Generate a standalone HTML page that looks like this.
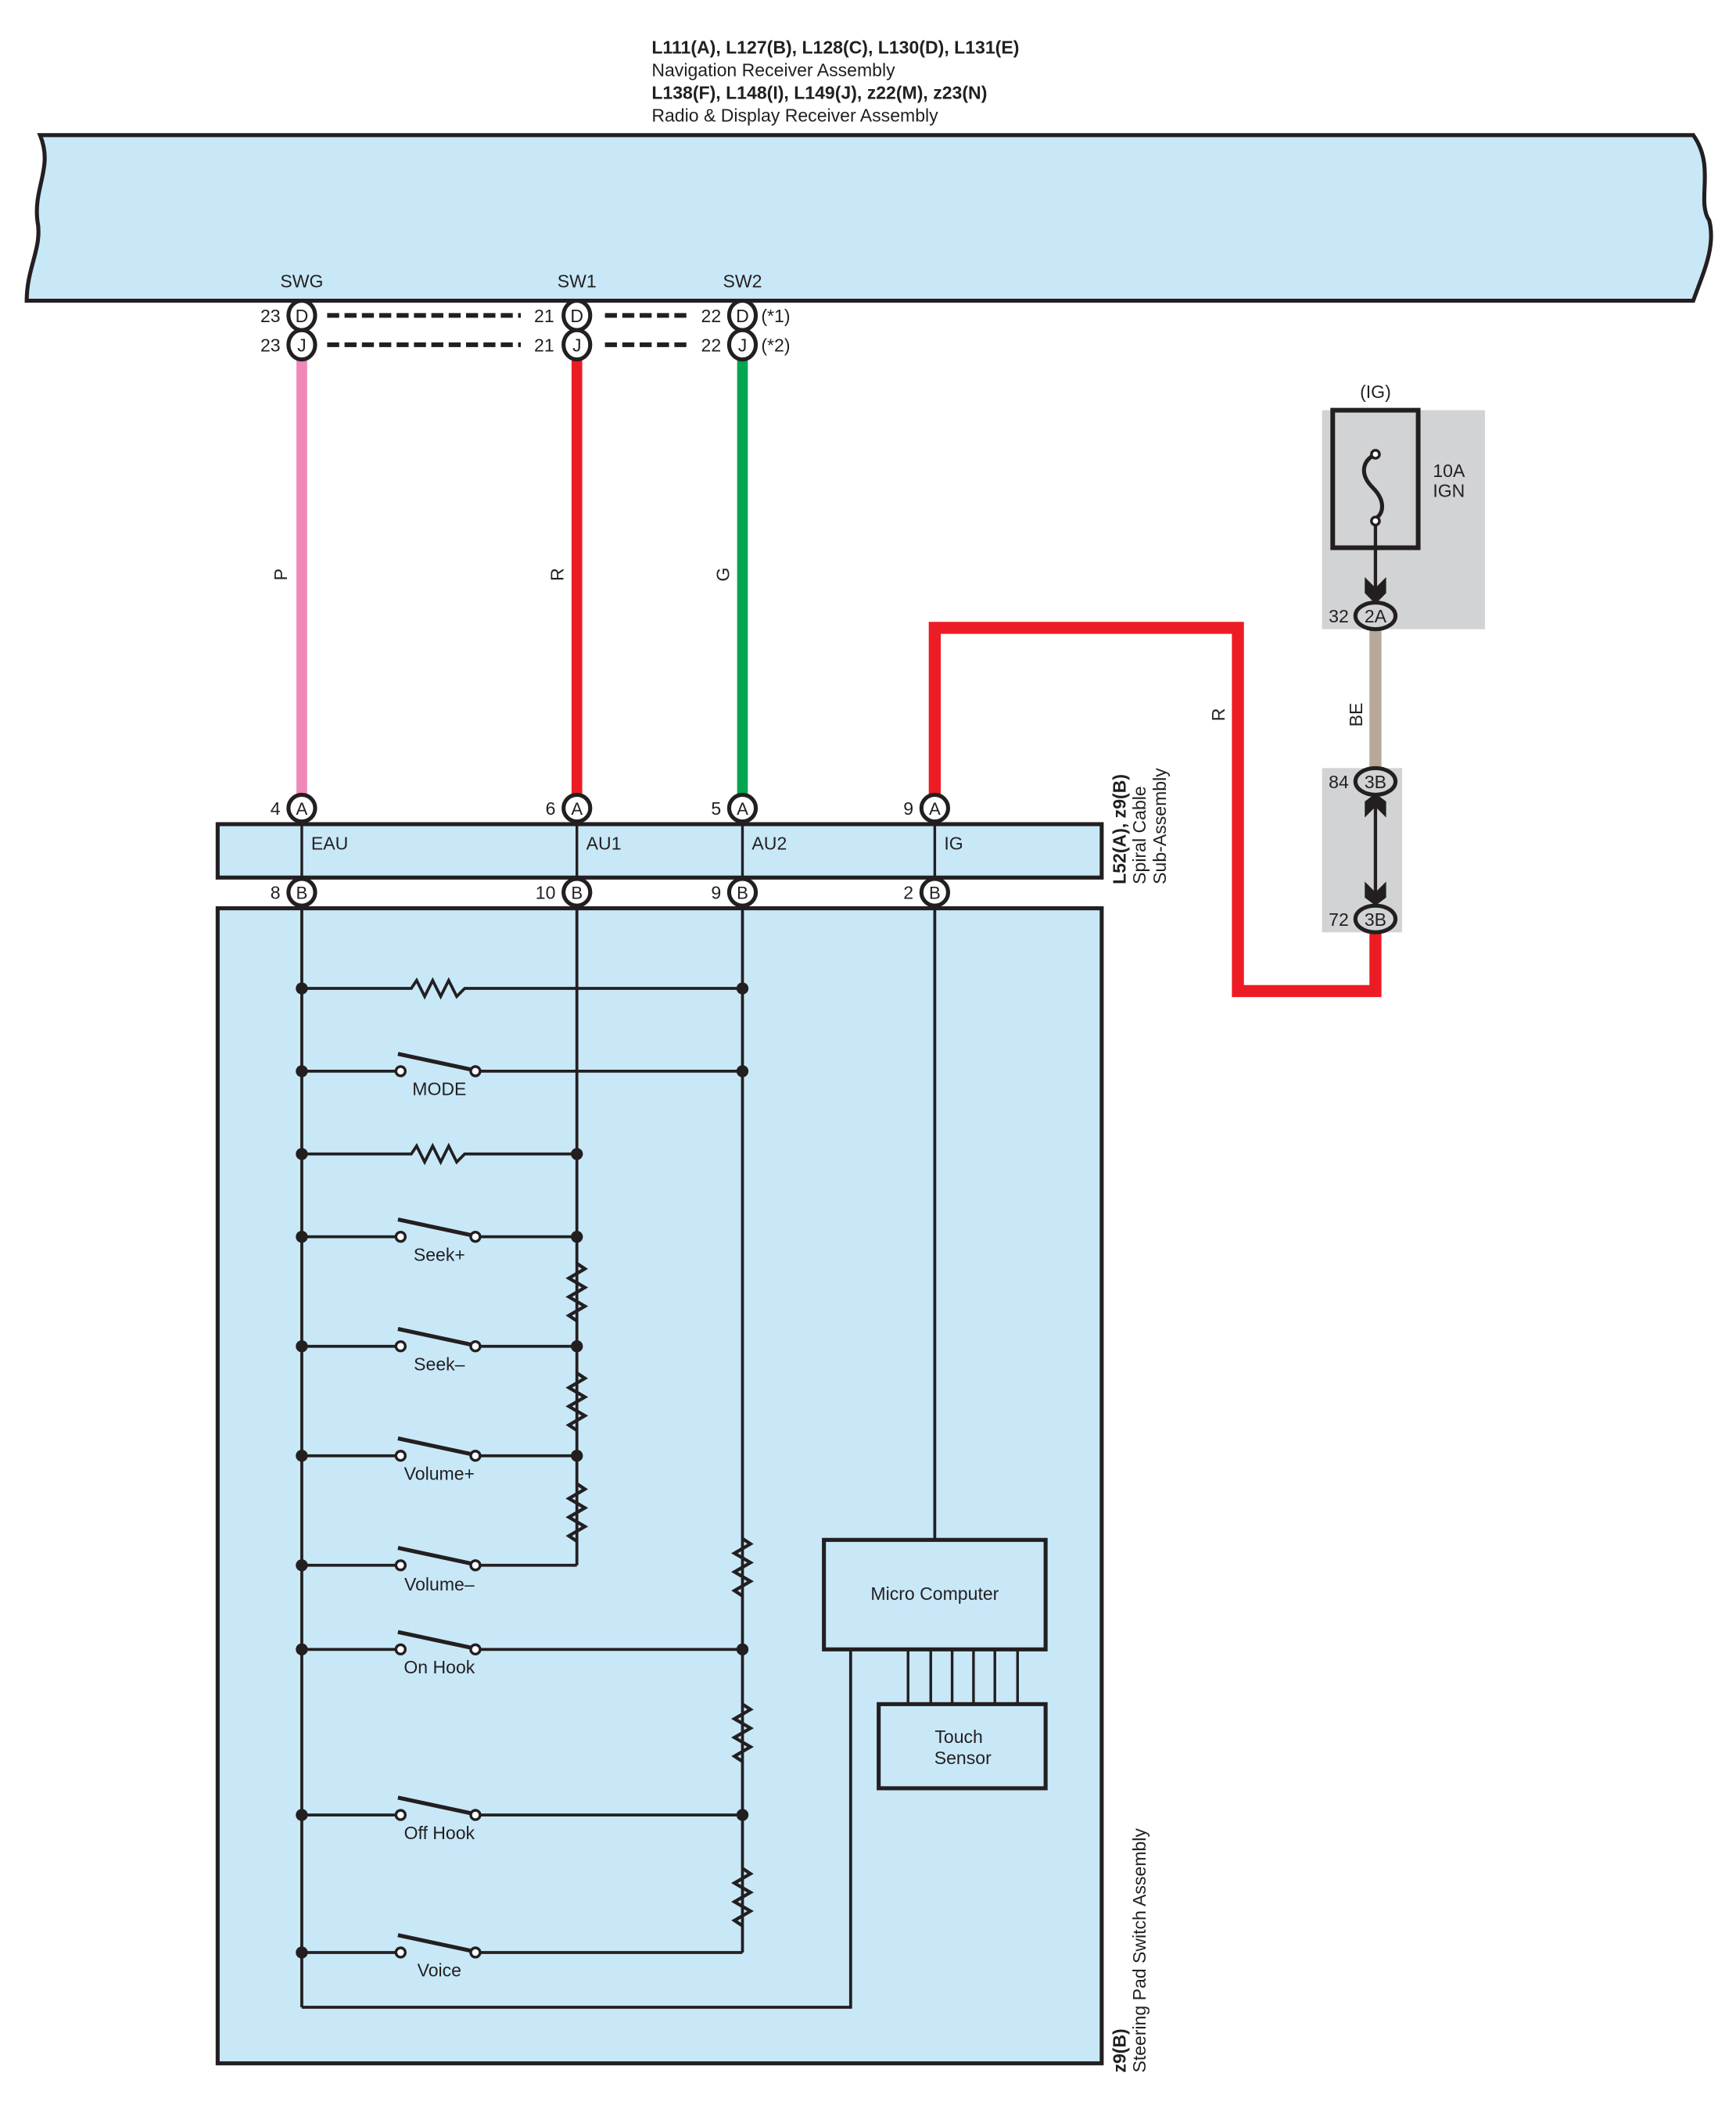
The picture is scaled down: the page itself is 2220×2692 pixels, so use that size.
<!DOCTYPE html>
<html><head><meta charset="utf-8"><style>
html,body{margin:0;padding:0;background:#fff}
svg{display:block}
text{font-family:"Liberation Sans",sans-serif;fill:#231f20}
</style></head><body>
<svg width="2220" height="2692" viewBox="0 0 1300 1576" xmlns="http://www.w3.org/2000/svg">
<!-- header -->
<g font-size="13.5">
<text x="488" y="40" font-weight="bold">L111(A), L127(B), L128(C), L130(D), L131(E)</text>
<text x="488" y="57">Navigation Receiver Assembly</text>
<text x="488" y="74" font-weight="bold">L138(F), L148(I), L149(J), z22(M), z23(N)</text>
<text x="488" y="91">Radio &amp; Display Receiver Assembly</text>
</g>
<path d="M30,101 H1268 C1285,125 1270,150 1280,165 C1285,185 1275,205 1268,225 H20 C20,200 32,185 28,165 C25,140 40,125 30,101 Z" fill="#c8e8f8" stroke="#231f20" stroke-width="3"/>
<g font-size="13.5" text-anchor="middle">
<text x="226" y="215">SWG</text><text x="432" y="215">SW1</text><text x="556" y="215">SW2</text>
</g>
<!-- wires top -->
<line x1="226" y1="265" x2="226" y2="597" stroke="#f088b8" stroke-width="8"/>
<line x1="432" y1="265" x2="432" y2="597" stroke="#ed1c24" stroke-width="8"/>
<line x1="556" y1="265" x2="556" y2="597" stroke="#00a650" stroke-width="8"/>
<g stroke="#231f20" stroke-width="3.5" stroke-dasharray="9,4">
<line x1="245" y1="236" x2="390" y2="236"/><line x1="453" y1="236" x2="515" y2="236"/>
<line x1="245" y1="258" x2="390" y2="258"/><line x1="453" y1="258" x2="515" y2="258"/>
</g>
<g fill="#fff" stroke="#231f20" stroke-width="3">
<ellipse cx="226" cy="236" rx="10" ry="11"/><ellipse cx="226" cy="258" rx="10" ry="11"/>
<ellipse cx="432" cy="236" rx="10" ry="11"/><ellipse cx="432" cy="258" rx="10" ry="11"/>
<ellipse cx="556" cy="236" rx="10" ry="11"/><ellipse cx="556" cy="258" rx="10" ry="11"/>
</g>
<g font-size="13.5" text-anchor="middle">
<text x="226" y="241">D</text><text x="226" y="263">J</text>
<text x="432" y="241">D</text><text x="432" y="263">J</text>
<text x="556" y="241">D</text><text x="556" y="263">J</text>
</g>
<g font-size="13.5" text-anchor="end">
<text x="210" y="241">23</text><text x="210" y="263">23</text>
<text x="415" y="241">21</text><text x="415" y="263">21</text>
<text x="540" y="241">22</text><text x="540" y="263">22</text>
</g>
<text x="570" y="241" font-size="13.5">(*1)</text><text x="570" y="263" font-size="13.5">(*2)</text>
<g font-size="13.5" text-anchor="middle">
<text transform="translate(215,430) rotate(-90)">P</text>
<text transform="translate(422,430) rotate(-90)">R</text>
<text transform="translate(546,430) rotate(-90)">G</text>
<text transform="translate(917,535) rotate(-90)">R</text>
<text transform="translate(1020,535) rotate(-90)">BE</text>
</g>
<!-- red IG wire -->
<path d="M700,598 V470 H927 V742 H1030 V698" fill="none" stroke="#ed1c24" stroke-width="9"/>
<!-- fuse area -->
<rect x="990" y="307" width="122" height="164" fill="#d1d3d4"/>
<rect x="998" y="307" width="64" height="103" fill="none" stroke="#231f20" stroke-width="3.5"/>
<text x="1030" y="298" font-size="13.5" text-anchor="middle">(IG)</text>
<text x="1073" y="357" font-size="13.5">10A</text><text x="1073" y="372" font-size="13.5">IGN</text>
<path d="M1030,340 C1020,345 1018,355 1028,365 C1038,375 1036,385 1030,388" fill="none" stroke="#231f20" stroke-width="3"/>
<circle cx="1030" cy="340" r="3" fill="#fff" stroke="#231f20" stroke-width="2"/>
<circle cx="1030" cy="390" r="3" fill="#fff" stroke="#231f20" stroke-width="2"/>
<line x1="1030" y1="393" x2="1030" y2="448" stroke="#231f20" stroke-width="2.5"/>
<path d="M1022,432 L1030,440 L1038,432 L1038,444 L1030,452 L1022,444Z" fill="#231f20"/>
<line x1="1030" y1="471" x2="1030" y2="576" stroke="#b8a898" stroke-width="9"/>
<rect x="990" y="575" width="60" height="123" fill="#d1d3d4"/>
<line x1="1030" y1="598" x2="1030" y2="676" stroke="#231f20" stroke-width="2.5"/>
<path d="M1022,612 L1030,604 L1038,612 L1038,600 L1030,594 L1022,600Z" fill="#231f20"/>
<path d="M1022,660 L1030,668 L1038,660 L1038,672 L1030,678 L1022,672Z" fill="#231f20"/>
<g fill="#d1d3d4" stroke="#231f20" stroke-width="3">
<ellipse cx="1030" cy="461" rx="15" ry="10"/><ellipse cx="1030" cy="585" rx="15" ry="10"/><ellipse cx="1030" cy="688" rx="15" ry="10"/>
</g>
<g font-size="13.5">
<text x="1030" y="466" text-anchor="middle">2A</text><text x="1030" y="590" text-anchor="middle">3B</text><text x="1030" y="693" text-anchor="middle">3B</text>
<text x="1010" y="466" text-anchor="end">32</text><text x="1010" y="590" text-anchor="end">84</text><text x="1010" y="693" text-anchor="end">72</text>
</g>
<!-- spiral cable -->
<rect x="163" y="617" width="662" height="40" fill="#c8e8f8" stroke="#231f20" stroke-width="3"/>
<g stroke="#231f20" stroke-width="2">
<line x1="226" y1="617" x2="226" y2="657"/><line x1="432" y1="617" x2="432" y2="657"/>
<line x1="556" y1="617" x2="556" y2="657"/><line x1="700" y1="617" x2="700" y2="657"/>
</g>
<g font-size="13.5"><text x="233" y="636">EAU</text><text x="439" y="636">AU1</text><text x="563" y="636">AU2</text><text x="707" y="636">IG</text></g>
<!-- main box -->
<rect x="163" y="680" width="662" height="865" fill="#c8e8f8" stroke="#231f20" stroke-width="3"/>
<g font-size="13.5">
<text transform="translate(843,662) rotate(-90)" font-weight="bold">L52(A), z9(B)</text>
<text transform="translate(858,662) rotate(-90)">Spiral Cable</text>
<text transform="translate(873,662) rotate(-90)">Sub-Assembly</text>
<text transform="translate(843,1552) rotate(-90)" font-weight="bold">z9(B)</text>
<text transform="translate(858,1552) rotate(-90)">Steering Pad Switch Assembly</text>
</g>
<!-- circuit -->
<g stroke="#231f20" stroke-width="2.2" fill="none">
<line x1="226" y1="678" x2="226" y2="1503"/>
<line x1="432" y1="678" x2="432" y2="1172"/>
<line x1="556" y1="678" x2="556" y2="1462"/>
<line x1="700" y1="678" x2="700" y2="1153"/>
<path d="M226,1503 H637 V1235"/>
<!-- horizontal resistors -->
<path d="M226,740 H308 L312,734 L318,746 L324,734 L330,746 L336,734 L342,746 L348,740 H556"/>
<path d="M226,864 H308 L312,858 L318,870 L324,858 L330,870 L336,858 L342,870 L348,864 H432"/>
<!-- vertical resistors on 432 -->
<path d="M432,946 L438,950 L426,957 L438,964 L426,971 L438,978 L426,985 L432,989" stroke-width="2.5"/>
<path d="M432,1028 L438,1032 L426,1039 L438,1046 L426,1053 L438,1060 L426,1067 L432,1071" stroke-width="2.5"/>
<path d="M432,1111 L438,1115 L426,1122 L438,1129 L426,1136 L438,1143 L426,1150 L432,1154" stroke-width="2.5"/>
<path d="M556,1152 L562,1156 L550,1163 L562,1170 L550,1177 L562,1184 L550,1191 L556,1195" stroke-width="2.5"/>
<path d="M556,1276 L562,1280 L550,1287 L562,1294 L550,1301 L562,1308 L550,1315 L556,1319" stroke-width="2.5"/>
<path d="M556,1399 L562,1403 L550,1410 L562,1417 L550,1424 L562,1431 L550,1438 L556,1442" stroke-width="2.5"/>
<!-- switches wires -->
<path d="M226,802 H296 M360,802 H556"/>
<path d="M226,926 H296 M360,926 H432"/>
<path d="M226,1008 H296 M360,1008 H432"/>
<path d="M226,1090 H296 M360,1090 H432"/>
<path d="M226,1172 H296 M360,1172 H432"/>
<path d="M226,1235 H296 M360,1235 H556"/>
<path d="M226,1359 H296 M360,1359 H556"/>
<path d="M226,1462 H296 M360,1462 H556"/>
</g>
<g stroke="#231f20" stroke-width="3">
<line x1="298" y1="789" x2="354" y2="801"/><line x1="298" y1="913" x2="354" y2="925"/>
<line x1="298" y1="995" x2="354" y2="1007"/><line x1="298" y1="1077" x2="354" y2="1089"/>
<line x1="298" y1="1159" x2="354" y2="1171"/><line x1="298" y1="1222" x2="354" y2="1234"/>
<line x1="298" y1="1346" x2="354" y2="1358"/><line x1="298" y1="1449" x2="354" y2="1461"/>
</g>
<g fill="#fff" stroke="#231f20" stroke-width="2">
<circle cx="300" cy="802" r="3.5"/><circle cx="356" cy="802" r="3.5"/>
<circle cx="300" cy="926" r="3.5"/><circle cx="356" cy="926" r="3.5"/>
<circle cx="300" cy="1008" r="3.5"/><circle cx="356" cy="1008" r="3.5"/>
<circle cx="300" cy="1090" r="3.5"/><circle cx="356" cy="1090" r="3.5"/>
<circle cx="300" cy="1172" r="3.5"/><circle cx="356" cy="1172" r="3.5"/>
<circle cx="300" cy="1235" r="3.5"/><circle cx="356" cy="1235" r="3.5"/>
<circle cx="300" cy="1359" r="3.5"/><circle cx="356" cy="1359" r="3.5"/>
<circle cx="300" cy="1462" r="3.5"/><circle cx="356" cy="1462" r="3.5"/>
</g>
<g fill="#231f20">
<circle cx="226" cy="740" r="4.5"/><circle cx="556" cy="740" r="4.5"/>
<circle cx="226" cy="802" r="4.5"/><circle cx="556" cy="802" r="4.5"/>
<circle cx="226" cy="864" r="4.5"/><circle cx="432" cy="864" r="4.5"/>
<circle cx="226" cy="926" r="4.5"/><circle cx="432" cy="926" r="4.5"/>
<circle cx="226" cy="1008" r="4.5"/><circle cx="432" cy="1008" r="4.5"/>
<circle cx="226" cy="1090" r="4.5"/><circle cx="432" cy="1090" r="4.5"/>
<circle cx="226" cy="1172" r="4.5"/>
<circle cx="226" cy="1235" r="4.5"/><circle cx="556" cy="1235" r="4.5"/>
<circle cx="226" cy="1359" r="4.5"/><circle cx="556" cy="1359" r="4.5"/>
<circle cx="226" cy="1462" r="4.5"/>
</g>
<g font-size="13.5" text-anchor="middle">
<text x="329" y="820">MODE</text><text x="329" y="944">Seek+</text><text x="329" y="1026">Seek–</text>
<text x="329" y="1108">Volume+</text><text x="329" y="1191">Volume–</text><text x="329" y="1253">On Hook</text>
<text x="329" y="1377">Off Hook</text><text x="329" y="1480">Voice</text>
</g>
<!-- micro computer -->
<rect x="617" y="1153" width="166" height="82" fill="#c8e8f8" stroke="#231f20" stroke-width="3"/>
<text x="700" y="1198" font-size="13.5" text-anchor="middle">Micro Computer</text>
<g stroke="#231f20" stroke-width="2">
<line x1="680" y1="1235" x2="680" y2="1276"/><line x1="697" y1="1235" x2="697" y2="1276"/>
<line x1="713" y1="1235" x2="713" y2="1276"/><line x1="729" y1="1235" x2="729" y2="1276"/>
<line x1="745" y1="1235" x2="745" y2="1276"/><line x1="762" y1="1235" x2="762" y2="1276"/>
</g>
<rect x="658" y="1276" width="125" height="63" fill="#c8e8f8" stroke="#231f20" stroke-width="3"/>
<text x="718" y="1305" font-size="13.5" text-anchor="middle">Touch</text>
<text x="721" y="1321" font-size="13.5" text-anchor="middle">Sensor</text>
<!-- connectors A/B -->
<g fill="#fff" stroke="#231f20" stroke-width="3">
<circle cx="226" cy="605" r="10"/><circle cx="432" cy="605" r="10"/><circle cx="556" cy="605" r="10"/><circle cx="700" cy="605" r="10"/>
<circle cx="226" cy="668" r="10"/><circle cx="432" cy="668" r="10"/><circle cx="556" cy="668" r="10"/><circle cx="700" cy="668" r="10"/>
</g>
<g font-size="13" text-anchor="middle">
<text x="226" y="610">A</text><text x="432" y="610">A</text><text x="556" y="610">A</text><text x="700" y="610">A</text>
<text x="226" y="673">B</text><text x="432" y="673">B</text><text x="556" y="673">B</text><text x="700" y="673">B</text>
</g>
<g font-size="13.5" text-anchor="end">
<text x="210" y="610">4</text><text x="416" y="610">6</text><text x="540" y="610">5</text><text x="684" y="610">9</text>
<text x="210" y="673">8</text><text x="416" y="673">10</text><text x="540" y="673">9</text><text x="684" y="673">2</text>
</g>
</svg>
</body></html>
